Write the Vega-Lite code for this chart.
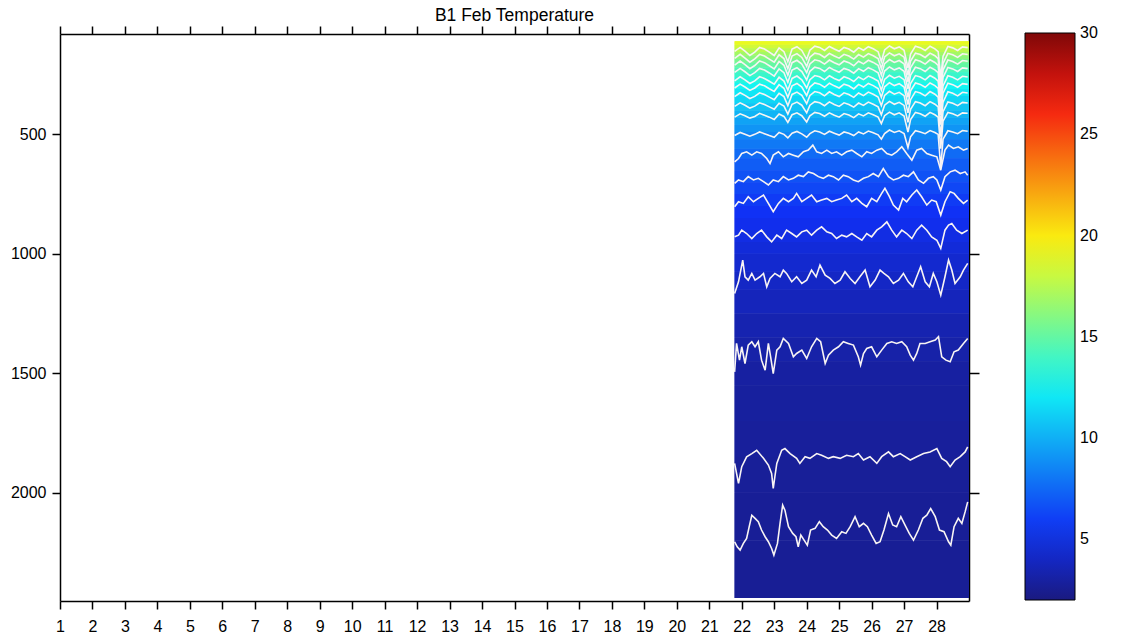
{
"$schema": "https://vega.github.io/schema/vega-lite/v6.json",
"width": 909, "height": 567,
"autosize": {"type": "none"},
"padding": {"left": 60, "top": 34, "right": 166, "bottom": 36},
"background": "white",
"title": {"text": "B1 Feb Temperature", "font": "Liberation Sans", "fontSize": 17.5, "fontWeight": "normal", "color": "black", "anchor": "middle", "offset": 1},
"config": {"view": {"stroke": null}, "axis": {"domainColor": "black", "domainWidth": 1.5, "tickColor": "black", "tickWidth": 1.5, "tickSize": 8, "labelFont": "Liberation Sans", "labelFontSize": 16, "labelColor": "black", "grid": false, "title": null, "labelFlush": false, "labelOverlap": false}},
"datasets": {
"bands": [
{"t0":21.78,"t1":29,"d0":110,"d1":125,"T":19.0},
{"t0":21.78,"t1":29,"d0":125,"d1":140,"T":18.3},
{"t0":21.78,"t1":29,"d0":140,"d1":155,"T":17.6},
{"t0":21.78,"t1":29,"d0":155,"d1":170,"T":16.9},
{"t0":21.78,"t1":29,"d0":170,"d1":185,"T":16.2},
{"t0":21.78,"t1":29,"d0":185,"d1":200,"T":15.6},
{"t0":21.78,"t1":29,"d0":200,"d1":220,"T":15.0},
{"t0":21.78,"t1":29,"d0":220,"d1":240,"T":14.4},
{"t0":21.78,"t1":29,"d0":240,"d1":260,"T":13.8},
{"t0":21.78,"t1":29,"d0":260,"d1":285,"T":13.2},
{"t0":21.78,"t1":29,"d0":285,"d1":310,"T":12.6},
{"t0":21.78,"t1":29,"d0":310,"d1":340,"T":12.0},
{"t0":21.78,"t1":29,"d0":340,"d1":370,"T":11.4},
{"t0":21.78,"t1":29,"d0":370,"d1":400,"T":10.8},
{"t0":21.78,"t1":29,"d0":400,"d1":430,"T":10.2},
{"t0":21.78,"t1":29,"d0":430,"d1":460,"T":9.6},
{"t0":21.78,"t1":29,"d0":460,"d1":490,"T":9.1},
{"t0":21.78,"t1":29,"d0":490,"d1":520,"T":8.6},
{"t0":21.78,"t1":29,"d0":520,"d1":560,"T":8.1},
{"t0":21.78,"t1":29,"d0":560,"d1":600,"T":7.6},
{"t0":21.78,"t1":29,"d0":600,"d1":650,"T":7.1},
{"t0":21.78,"t1":29,"d0":650,"d1":700,"T":6.7},
{"t0":21.78,"t1":29,"d0":700,"d1":750,"T":6.3},
{"t0":21.78,"t1":29,"d0":750,"d1":800,"T":5.9},
{"t0":21.78,"t1":29,"d0":800,"d1":850,"T":5.55},
{"t0":21.78,"t1":29,"d0":850,"d1":900,"T":5.25},
{"t0":21.78,"t1":29,"d0":900,"d1":950,"T":4.95},
{"t0":21.78,"t1":29,"d0":950,"d1":1000,"T":4.65},
{"t0":21.78,"t1":29,"d0":1000,"d1":1075,"T":4.35},
{"t0":21.78,"t1":29,"d0":1075,"d1":1150,"T":4.05},
{"t0":21.78,"t1":29,"d0":1150,"d1":1250,"T":3.75},
{"t0":21.78,"t1":29,"d0":1250,"d1":1350,"T":3.45},
{"t0":21.78,"t1":29,"d0":1350,"d1":1450,"T":3.2},
{"t0":21.78,"t1":29,"d0":1450,"d1":1550,"T":3.0},
{"t0":21.78,"t1":29,"d0":1550,"d1":1700,"T":2.9},
{"t0":21.78,"t1":29,"d0":1700,"d1":1850,"T":2.8},
{"t0":21.78,"t1":29,"d0":1850,"d1":2000,"T":2.72},
{"t0":21.78,"t1":29,"d0":2000,"d1":2200,"T":2.67},
{"t0":21.78,"t1":29,"d0":2200,"d1":2440,"T":2.62}
],
"lines": [
{"k":"I","t":21.78,"d":2205},{"k":"I","t":21.86,"d":2226},{"k":"I","t":21.95,"d":2240},{"k":"I","t":22.05,"d":2212},{"k":"I","t":22.15,"d":2191},{"k":"I","t":22.23,"d":2142},{"k":"I","t":22.31,"d":2094},{"k":"I","t":22.41,"d":2107},{"k":"I","t":22.51,"d":2121},{"k":"I","t":22.61,"d":2156},{"k":"I","t":22.72,"d":2184},{"k":"I","t":22.82,"d":2205},{"k":"I","t":22.92,"d":2233},{"k":"I","t":22.99,"d":2261},{"k":"I","t":23.10,"d":2212},{"k":"I","t":23.18,"d":2128},{"k":"I","t":23.26,"d":2052},{"k":"I","t":23.33,"d":2073},{"k":"I","t":23.44,"d":2142},{"k":"I","t":23.57,"d":2170},{"k":"I","t":23.67,"d":2184},{"k":"I","t":23.74,"d":2226},{"k":"I","t":23.82,"d":2177},{"k":"I","t":23.92,"d":2198},{"k":"I","t":24.02,"d":2219},{"k":"I","t":24.12,"d":2156},{"k":"I","t":24.26,"d":2149},{"k":"I","t":24.39,"d":2121},{"k":"I","t":24.51,"d":2142},{"k":"I","t":24.64,"d":2156},{"k":"I","t":24.77,"d":2177},{"k":"I","t":24.92,"d":2191},{"k":"I","t":25.08,"d":2163},{"k":"I","t":25.21,"d":2170},{"k":"I","t":25.34,"d":2142},{"k":"I","t":25.49,"d":2100},{"k":"I","t":25.62,"d":2142},{"k":"I","t":25.75,"d":2128},{"k":"I","t":25.87,"d":2142},{"k":"I","t":26.00,"d":2177},{"k":"I","t":26.14,"d":2212},{"k":"I","t":26.26,"d":2205},{"k":"I","t":26.38,"d":2156},{"k":"I","t":26.52,"d":2087},{"k":"I","t":26.65,"d":2135},{"k":"I","t":26.77,"d":2142},{"k":"I","t":26.90,"d":2100},{"k":"I","t":27.03,"d":2135},{"k":"I","t":27.16,"d":2170},{"k":"I","t":27.29,"d":2198},{"k":"I","t":27.44,"d":2156},{"k":"I","t":27.58,"d":2107},{"k":"I","t":27.70,"d":2094},{"k":"I","t":27.82,"d":2066},{"k":"I","t":27.96,"d":2100},{"k":"I","t":28.09,"d":2156},{"k":"I","t":28.23,"d":2163},{"k":"I","t":28.37,"d":2205},{"k":"I","t":28.44,"d":2219},{"k":"I","t":28.54,"d":2142},{"k":"I","t":28.67,"d":2107},{"k":"I","t":28.78,"d":2128},{"k":"I","t":28.88,"d":2080},{"k":"I","t":28.96,"d":2038},
{"k":"H","t":21.78,"d":1877},{"k":"H","t":21.90,"d":1961},{"k":"H","t":22.00,"d":1891},{"k":"H","t":22.15,"d":1850},{"k":"H","t":22.31,"d":1836},{"k":"H","t":22.46,"d":1822},{"k":"H","t":22.67,"d":1856},{"k":"H","t":22.82,"d":1884},{"k":"H","t":22.92,"d":1919},{"k":"H","t":22.97,"d":1982},{"k":"H","t":23.02,"d":1933},{"k":"H","t":23.08,"d":1877},{"k":"H","t":23.23,"d":1822},{"k":"H","t":23.33,"d":1815},{"k":"H","t":23.49,"d":1836},{"k":"H","t":23.69,"d":1856},{"k":"H","t":23.79,"d":1877},{"k":"H","t":23.95,"d":1849},{"k":"H","t":24.10,"d":1856},{"k":"H","t":24.31,"d":1836},{"k":"H","t":24.46,"d":1843},{"k":"H","t":24.67,"d":1856},{"k":"H","t":24.82,"d":1849},{"k":"H","t":25.03,"d":1856},{"k":"H","t":25.23,"d":1843},{"k":"H","t":25.44,"d":1849},{"k":"H","t":25.59,"d":1836},{"k":"H","t":25.75,"d":1863},{"k":"H","t":25.95,"d":1849},{"k":"H","t":26.16,"d":1877},{"k":"H","t":26.31,"d":1849},{"k":"H","t":26.52,"d":1829},{"k":"H","t":26.67,"d":1849},{"k":"H","t":26.88,"d":1836},{"k":"H","t":27.03,"d":1849},{"k":"H","t":27.19,"d":1863},{"k":"H","t":27.39,"d":1849},{"k":"H","t":27.60,"d":1836},{"k":"H","t":27.80,"d":1829},{"k":"H","t":28.01,"d":1815},{"k":"H","t":28.16,"d":1856},{"k":"H","t":28.31,"d":1870},{"k":"H","t":28.42,"d":1891},{"k":"H","t":28.57,"d":1863},{"k":"H","t":28.73,"d":1849},{"k":"H","t":28.88,"d":1829},{"k":"H","t":28.96,"d":1808},
{"k":"G","t":21.78,"d":1494},{"k":"G","t":21.84,"d":1375},{"k":"G","t":21.93,"d":1445},{"k":"G","t":22.00,"d":1389},{"k":"G","t":22.10,"d":1459},{"k":"G","t":22.20,"d":1382},{"k":"G","t":22.31,"d":1368},{"k":"G","t":22.41,"d":1389},{"k":"G","t":22.51,"d":1368},{"k":"G","t":22.61,"d":1445},{"k":"G","t":22.72,"d":1487},{"k":"G","t":22.82,"d":1375},{"k":"G","t":22.89,"d":1431},{"k":"G","t":22.97,"d":1501},{"k":"G","t":23.08,"d":1403},{"k":"G","t":23.18,"d":1389},{"k":"G","t":23.28,"d":1354},{"k":"G","t":23.44,"d":1375},{"k":"G","t":23.59,"d":1431},{"k":"G","t":23.69,"d":1417},{"k":"G","t":23.85,"d":1403},{"k":"G","t":24.00,"d":1438},{"k":"G","t":24.15,"d":1389},{"k":"G","t":24.31,"d":1354},{"k":"G","t":24.43,"d":1368},{"k":"G","t":24.57,"d":1459},{"k":"G","t":24.67,"d":1424},{"k":"G","t":24.82,"d":1403},{"k":"G","t":24.98,"d":1389},{"k":"G","t":25.13,"d":1368},{"k":"G","t":25.28,"d":1375},{"k":"G","t":25.44,"d":1382},{"k":"G","t":25.59,"d":1431},{"k":"G","t":25.66,"d":1466},{"k":"G","t":25.75,"d":1417},{"k":"G","t":25.85,"d":1396},{"k":"G","t":26.00,"d":1389},{"k":"G","t":26.16,"d":1431},{"k":"G","t":26.31,"d":1403},{"k":"G","t":26.47,"d":1375},{"k":"G","t":26.62,"d":1368},{"k":"G","t":26.77,"d":1375},{"k":"G","t":26.93,"d":1368},{"k":"G","t":27.08,"d":1389},{"k":"G","t":27.19,"d":1424},{"k":"G","t":27.29,"d":1445},{"k":"G","t":27.39,"d":1417},{"k":"G","t":27.49,"d":1375},{"k":"G","t":27.65,"d":1375},{"k":"G","t":27.80,"d":1368},{"k":"G","t":27.96,"d":1361},{"k":"G","t":28.06,"d":1347},{"k":"G","t":28.16,"d":1431},{"k":"G","t":28.29,"d":1445},{"k":"G","t":28.42,"d":1452},{"k":"G","t":28.54,"d":1410},{"k":"G","t":28.67,"d":1403},{"k":"G","t":28.83,"d":1375},{"k":"G","t":28.96,"d":1354},
{"k":"F","t":21.78,"d":1166},{"k":"F","t":21.90,"d":1117},{"k":"F","t":22.03,"d":1026},{"k":"F","t":22.10,"d":1096},{"k":"F","t":22.20,"d":1110},{"k":"F","t":22.31,"d":1082},{"k":"F","t":22.41,"d":1110},{"k":"F","t":22.56,"d":1096},{"k":"F","t":22.67,"d":1082},{"k":"F","t":22.77,"d":1138},{"k":"F","t":22.87,"d":1103},{"k":"F","t":23.02,"d":1082},{"k":"F","t":23.18,"d":1096},{"k":"F","t":23.28,"d":1068},{"k":"F","t":23.38,"d":1082},{"k":"F","t":23.54,"d":1117},{"k":"F","t":23.69,"d":1096},{"k":"F","t":23.85,"d":1124},{"k":"F","t":24.00,"d":1110},{"k":"F","t":24.15,"d":1068},{"k":"F","t":24.29,"d":1096},{"k":"F","t":24.41,"d":1047},{"k":"F","t":24.57,"d":1089},{"k":"F","t":24.72,"d":1103},{"k":"F","t":24.87,"d":1124},{"k":"F","t":25.03,"d":1110},{"k":"F","t":25.18,"d":1075},{"k":"F","t":25.34,"d":1103},{"k":"F","t":25.49,"d":1124},{"k":"F","t":25.64,"d":1096},{"k":"F","t":25.80,"d":1068},{"k":"F","t":25.95,"d":1138},{"k":"F","t":26.11,"d":1110},{"k":"F","t":26.26,"d":1068},{"k":"F","t":26.38,"d":1082},{"k":"F","t":26.52,"d":1096},{"k":"F","t":26.67,"d":1124},{"k":"F","t":26.83,"d":1110},{"k":"F","t":26.98,"d":1082},{"k":"F","t":27.13,"d":1117},{"k":"F","t":27.27,"d":1138},{"k":"F","t":27.39,"d":1096},{"k":"F","t":27.51,"d":1054},{"k":"F","t":27.65,"d":1117},{"k":"F","t":27.78,"d":1138},{"k":"F","t":27.90,"d":1082},{"k":"F","t":28.01,"d":1117},{"k":"F","t":28.13,"d":1173},{"k":"F","t":28.26,"d":1096},{"k":"F","t":28.37,"d":1026},{"k":"F","t":28.47,"d":1068},{"k":"F","t":28.57,"d":1124},{"k":"F","t":28.73,"d":1096},{"k":"F","t":28.83,"d":1068},{"k":"F","t":28.96,"d":1040},
{"k":"E","t":21.78,"d":929},{"k":"E","t":21.90,"d":922},{"k":"E","t":22.00,"d":901},{"k":"E","t":22.15,"d":915},{"k":"E","t":22.31,"d":936},{"k":"E","t":22.46,"d":915},{"k":"E","t":22.61,"d":901},{"k":"E","t":22.77,"d":929},{"k":"E","t":22.92,"d":950},{"k":"E","t":23.08,"d":922},{"k":"E","t":23.23,"d":936},{"k":"E","t":23.38,"d":901},{"k":"E","t":23.54,"d":915},{"k":"E","t":23.69,"d":929},{"k":"E","t":23.85,"d":908},{"k":"E","t":24.00,"d":901},{"k":"E","t":24.15,"d":922},{"k":"E","t":24.31,"d":901},{"k":"E","t":24.46,"d":887},{"k":"E","t":24.62,"d":908},{"k":"E","t":24.77,"d":915},{"k":"E","t":24.92,"d":936},{"k":"E","t":25.08,"d":922},{"k":"E","t":25.23,"d":929},{"k":"E","t":25.39,"d":915},{"k":"E","t":25.54,"d":929},{"k":"E","t":25.70,"d":943},{"k":"E","t":25.85,"d":915},{"k":"E","t":26.00,"d":929},{"k":"E","t":26.16,"d":901},{"k":"E","t":26.31,"d":887},{"k":"E","t":26.47,"d":866},{"k":"E","t":26.62,"d":901},{"k":"E","t":26.77,"d":929},{"k":"E","t":26.93,"d":901},{"k":"E","t":27.08,"d":915},{"k":"E","t":27.24,"d":936},{"k":"E","t":27.39,"d":901},{"k":"E","t":27.54,"d":880},{"k":"E","t":27.70,"d":901},{"k":"E","t":27.85,"d":929},{"k":"E","t":28.01,"d":943},{"k":"E","t":28.13,"d":977},{"k":"E","t":28.26,"d":901},{"k":"E","t":28.37,"d":880},{"k":"E","t":28.47,"d":873},{"k":"E","t":28.62,"d":901},{"k":"E","t":28.78,"d":915},{"k":"E","t":28.96,"d":901},
{"k":"D","t":21.78,"d":803},{"k":"D","t":21.90,"d":782},{"k":"D","t":22.05,"d":789},{"k":"D","t":22.20,"d":761},{"k":"D","t":22.36,"d":782},{"k":"D","t":22.51,"d":768},{"k":"D","t":22.67,"d":754},{"k":"D","t":22.82,"d":789},{"k":"D","t":22.97,"d":824},{"k":"D","t":23.13,"d":789},{"k":"D","t":23.28,"d":768},{"k":"D","t":23.44,"d":782},{"k":"D","t":23.59,"d":768},{"k":"D","t":23.69,"d":747},{"k":"D","t":23.85,"d":782},{"k":"D","t":24.00,"d":768},{"k":"D","t":24.15,"d":754},{"k":"D","t":24.31,"d":782},{"k":"D","t":24.46,"d":775},{"k":"D","t":24.62,"d":768},{"k":"D","t":24.77,"d":782},{"k":"D","t":24.92,"d":775},{"k":"D","t":25.08,"d":768},{"k":"D","t":25.23,"d":754},{"k":"D","t":25.39,"d":782},{"k":"D","t":25.54,"d":768},{"k":"D","t":25.70,"d":789},{"k":"D","t":25.85,"d":803},{"k":"D","t":26.00,"d":768},{"k":"D","t":26.16,"d":782},{"k":"D","t":26.31,"d":747},{"k":"D","t":26.41,"d":726},{"k":"D","t":26.55,"d":761},{"k":"D","t":26.67,"d":796},{"k":"D","t":26.83,"d":817},{"k":"D","t":26.96,"d":768},{"k":"D","t":27.08,"d":782},{"k":"D","t":27.24,"d":754},{"k":"D","t":27.39,"d":733},{"k":"D","t":27.54,"d":761},{"k":"D","t":27.70,"d":796},{"k":"D","t":27.85,"d":775},{"k":"D","t":27.99,"d":782},{"k":"D","t":28.13,"d":838},{"k":"D","t":28.26,"d":782},{"k":"D","t":28.42,"d":740},{"k":"D","t":28.54,"d":747},{"k":"D","t":28.67,"d":768},{"k":"D","t":28.83,"d":789},{"k":"D","t":28.96,"d":775},
{"k":"C","t":21.78,"d":705},{"k":"C","t":21.90,"d":691},{"k":"C","t":22.05,"d":698},{"k":"C","t":22.20,"d":677},{"k":"C","t":22.36,"d":691},{"k":"C","t":22.51,"d":684},{"k":"C","t":22.67,"d":698},{"k":"C","t":22.82,"d":712},{"k":"C","t":22.97,"d":691},{"k":"C","t":23.13,"d":698},{"k":"C","t":23.28,"d":677},{"k":"C","t":23.44,"d":691},{"k":"C","t":23.59,"d":684},{"k":"C","t":23.74,"d":671},{"k":"C","t":23.90,"d":677},{"k":"C","t":24.05,"d":657},{"k":"C","t":24.21,"d":664},{"k":"C","t":24.36,"d":677},{"k":"C","t":24.51,"d":684},{"k":"C","t":24.67,"d":671},{"k":"C","t":24.82,"d":677},{"k":"C","t":24.98,"d":691},{"k":"C","t":25.13,"d":671},{"k":"C","t":25.28,"d":677},{"k":"C","t":25.44,"d":691},{"k":"C","t":25.59,"d":698},{"k":"C","t":25.75,"d":684},{"k":"C","t":25.90,"d":677},{"k":"C","t":26.05,"d":664},{"k":"C","t":26.21,"d":677},{"k":"C","t":26.36,"d":643},{"k":"C","t":26.52,"d":677},{"k":"C","t":26.67,"d":691},{"k":"C","t":26.83,"d":684},{"k":"C","t":26.98,"d":671},{"k":"C","t":27.13,"d":677},{"k":"C","t":27.29,"d":657},{"k":"C","t":27.44,"d":691},{"k":"C","t":27.60,"d":705},{"k":"C","t":27.75,"d":684},{"k":"C","t":27.90,"d":677},{"k":"C","t":28.01,"d":691},{"k":"C","t":28.13,"d":733},{"k":"C","t":28.26,"d":677},{"k":"C","t":28.42,"d":657},{"k":"C","t":28.57,"d":650},{"k":"C","t":28.73,"d":664},{"k":"C","t":28.88,"d":657},{"k":"C","t":28.96,"d":671},
{"k":"B","t":21.78,"d":615},{"k":"B","t":21.90,"d":601},{"k":"B","t":22.00,"d":580},{"k":"B","t":22.15,"d":573},{"k":"B","t":22.31,"d":587},{"k":"B","t":22.46,"d":573},{"k":"B","t":22.61,"d":580},{"k":"B","t":22.77,"d":601},{"k":"B","t":22.87,"d":622},{"k":"B","t":22.97,"d":587},{"k":"B","t":23.13,"d":573},{"k":"B","t":23.28,"d":594},{"k":"B","t":23.44,"d":580},{"k":"B","t":23.59,"d":587},{"k":"B","t":23.74,"d":594},{"k":"B","t":23.90,"d":573},{"k":"B","t":24.05,"d":566},{"k":"B","t":24.19,"d":545},{"k":"B","t":24.31,"d":573},{"k":"B","t":24.46,"d":580},{"k":"B","t":24.62,"d":566},{"k":"B","t":24.77,"d":580},{"k":"B","t":24.92,"d":573},{"k":"B","t":25.08,"d":587},{"k":"B","t":25.23,"d":573},{"k":"B","t":25.39,"d":566},{"k":"B","t":25.54,"d":580},{"k":"B","t":25.70,"d":594},{"k":"B","t":25.85,"d":573},{"k":"B","t":26.00,"d":580},{"k":"B","t":26.16,"d":566},{"k":"B","t":26.31,"d":559},{"k":"B","t":26.47,"d":580},{"k":"B","t":26.62,"d":587},{"k":"B","t":26.77,"d":573},{"k":"B","t":26.93,"d":552},{"k":"B","t":27.08,"d":580},{"k":"B","t":27.24,"d":608},{"k":"B","t":27.39,"d":566},{"k":"B","t":27.54,"d":559},{"k":"B","t":27.70,"d":580},{"k":"B","t":27.85,"d":587},{"k":"B","t":28.01,"d":594},{"k":"B","t":28.13,"d":650},{"k":"B","t":28.26,"d":566},{"k":"B","t":28.37,"d":545},{"k":"B","t":28.52,"d":559},{"k":"B","t":28.67,"d":552},{"k":"B","t":28.83,"d":566},{"k":"B","t":28.96,"d":559}
],
"upper": [
{"t":21.78,"A":505,"A2":428,"A3":383,"A4":342,"A5":306,"A6":276,"A7":241,"A8":210,"A9":182,"A10":153},
{"t":21.95,"A":492,"A2":414,"A3":368,"A4":326,"A5":290,"A6":259,"A7":224,"A8":193,"A9":165,"A10":136},
{"t":22.1,"A":500,"A2":422,"A3":378,"A4":337,"A5":302,"A6":272,"A7":238,"A8":208,"A9":181,"A10":152},
{"t":22.25,"A":508,"A2":432,"A3":390,"A4":350,"A5":316,"A6":287,"A7":254,"A8":225,"A9":198,"A10":170},
{"t":22.4,"A":500,"A2":425,"A3":382,"A4":341,"A5":306,"A6":276,"A7":242,"A8":212,"A9":184,"A10":156},
{"t":22.55,"A":490,"A2":412,"A3":368,"A4":326,"A5":290,"A6":259,"A7":224,"A8":193,"A9":165,"A10":136},
{"t":22.7,"A":497,"A2":420,"A3":375,"A4":333,"A5":297,"A6":266,"A7":231,"A8":200,"A9":172,"A10":143},
{"t":22.85,"A":505,"A2":428,"A3":385,"A4":344,"A5":309,"A6":278,"A7":243,"A8":213,"A9":185,"A10":156},
{"t":23.0,"A":512,"A2":438,"A3":395,"A4":355,"A5":320,"A6":290,"A7":256,"A8":226,"A9":198,"A10":170},
{"t":23.15,"A":492,"A2":415,"A3":370,"A4":328,"A5":292,"A6":261,"A7":226,"A8":195,"A9":167,"A10":138},
{"t":23.3,"A":500,"A2":425,"A3":382,"A4":342,"A5":307,"A6":277,"A7":242,"A8":211,"A9":183,"A10":154},
{"t":23.42,"A":515,"A2":450,"A3":415,"A4":380,"A5":345,"A6":315,"A7":282,"A8":252,"A9":225,"A10":196},
{"t":23.55,"A":495,"A2":418,"A3":374,"A4":333,"A5":297,"A6":266,"A7":231,"A8":200,"A9":172,"A10":143},
{"t":23.7,"A":488,"A2":410,"A3":365,"A4":323,"A5":287,"A6":256,"A7":221,"A8":190,"A9":162,"A10":133},
{"t":23.85,"A":498,"A2":422,"A3":378,"A4":337,"A5":302,"A6":272,"A7":237,"A8":206,"A9":178,"A10":149},
{"t":24.0,"A":512,"A2":448,"A3":410,"A4":372,"A5":338,"A6":306,"A7":272,"A8":242,"A9":215,"A10":186},
{"t":24.1,"A":497,"A2":422,"A3":378,"A4":337,"A5":302,"A6":271,"A7":236,"A8":205,"A9":177,"A10":148},
{"t":24.25,"A":485,"A2":408,"A3":363,"A4":321,"A5":285,"A6":254,"A7":219,"A8":188,"A9":160,"A10":131},
{"t":24.4,"A":490,"A2":413,"A3":368,"A4":326,"A5":290,"A6":259,"A7":224,"A8":193,"A9":165,"A10":136},
{"t":24.55,"A":500,"A2":424,"A3":380,"A4":339,"A5":303,"A6":272,"A7":237,"A8":206,"A9":178,"A10":149},
{"t":24.7,"A":487,"A2":410,"A3":364,"A4":322,"A5":286,"A6":255,"A7":220,"A8":189,"A9":161,"A10":132},
{"t":24.85,"A":495,"A2":420,"A3":375,"A4":333,"A5":297,"A6":266,"A7":231,"A8":200,"A9":172,"A10":143},
{"t":25.0,"A":503,"A2":428,"A3":383,"A4":342,"A5":306,"A6":275,"A7":240,"A8":209,"A9":181,"A10":152},
{"t":25.15,"A":490,"A2":413,"A3":368,"A4":326,"A5":290,"A6":259,"A7":224,"A8":193,"A9":165,"A10":136},
{"t":25.3,"A":495,"A2":419,"A3":375,"A4":333,"A5":297,"A6":266,"A7":231,"A8":200,"A9":172,"A10":143},
{"t":25.45,"A":505,"A2":430,"A3":386,"A4":345,"A5":310,"A6":279,"A7":244,"A8":213,"A9":185,"A10":156},
{"t":25.6,"A":490,"A2":414,"A3":369,"A4":327,"A5":291,"A6":260,"A7":225,"A8":194,"A9":166,"A10":137},
{"t":25.75,"A":498,"A2":423,"A3":379,"A4":338,"A5":302,"A6":271,"A7":236,"A8":205,"A9":177,"A10":148},
{"t":25.9,"A":486,"A2":410,"A3":365,"A4":323,"A5":287,"A6":256,"A7":221,"A8":190,"A9":162,"A10":133},
{"t":26.05,"A":493,"A2":418,"A3":374,"A4":332,"A5":296,"A6":265,"A7":230,"A8":199,"A9":171,"A10":142},
{"t":26.2,"A":502,"A2":428,"A3":385,"A4":344,"A5":308,"A6":277,"A7":242,"A8":211,"A9":183,"A10":154},
{"t":26.3,"A":520,"A2":455,"A3":418,"A4":380,"A5":345,"A6":315,"A7":282,"A8":252,"A9":224,"A10":195},
{"t":26.4,"A":497,"A2":422,"A3":378,"A4":337,"A5":301,"A6":270,"A7":235,"A8":204,"A9":176,"A10":147},
{"t":26.55,"A":482,"A2":407,"A3":362,"A4":320,"A5":284,"A6":253,"A7":218,"A8":187,"A9":159,"A10":130},
{"t":26.7,"A":492,"A2":418,"A3":374,"A4":332,"A5":296,"A6":265,"A7":230,"A8":199,"A9":171,"A10":142},
{"t":26.85,"A":485,"A2":410,"A3":366,"A4":324,"A5":288,"A6":257,"A7":222,"A8":191,"A9":163,"A10":134},
{"t":27.0,"A":497,"A2":423,"A3":379,"A4":338,"A5":302,"A6":271,"A7":236,"A8":205,"A9":177,"A10":148},
{"t":27.12,"A":555,"A2":490,"A3":450,"A4":410,"A5":375,"A6":345,"A7":310,"A8":280,"A9":252,"A10":222},
{"t":27.2,"A":510,"A2":438,"A3":395,"A4":355,"A5":318,"A6":287,"A7":252,"A8":221,"A9":193,"A10":164},
{"t":27.35,"A":485,"A2":408,"A3":363,"A4":321,"A5":285,"A6":254,"A7":219,"A8":188,"A9":160,"A10":131},
{"t":27.5,"A":490,"A2":414,"A3":369,"A4":327,"A5":291,"A6":260,"A7":225,"A8":194,"A9":166,"A10":137},
{"t":27.65,"A":497,"A2":424,"A3":380,"A4":339,"A5":303,"A6":272,"A7":237,"A8":206,"A9":178,"A10":149},
{"t":27.8,"A":484,"A2":408,"A3":363,"A4":321,"A5":285,"A6":254,"A7":219,"A8":188,"A9":160,"A10":131},
{"t":27.95,"A":492,"A2":418,"A3":374,"A4":332,"A5":296,"A6":265,"A7":230,"A8":199,"A9":171,"A10":142},
{"t":28.05,"A":500,"A2":428,"A3":385,"A4":344,"A5":308,"A6":277,"A7":242,"A8":211,"A9":183,"A10":154},
{"t":28.13,"A":640,"A2":560,"A3":510,"A4":460,"A5":420,"A6":385,"A7":350,"A8":320,"A9":292,"A10":262},
{"t":28.2,"A":520,"A2":445,"A3":405,"A4":365,"A5":328,"A6":297,"A7":262,"A8":231,"A9":203,"A10":174},
{"t":28.35,"A":485,"A2":408,"A3":364,"A4":322,"A5":286,"A6":255,"A7":220,"A8":189,"A9":161,"A10":132},
{"t":28.5,"A":490,"A2":414,"A3":370,"A4":328,"A5":292,"A6":261,"A7":226,"A8":195,"A9":167,"A10":138},
{"t":28.65,"A":497,"A2":423,"A3":380,"A4":339,"A5":303,"A6":272,"A7":237,"A8":206,"A9":178,"A10":149},
{"t":28.8,"A":484,"A2":410,"A3":366,"A4":324,"A5":288,"A6":257,"A7":222,"A8":191,"A9":163,"A10":134},
{"t":28.96,"A":487,"A2":412,"A3":369,"A4":327,"A5":291,"A6":260,"A7":225,"A8":194,"A9":166,"A10":137}
]
},
"layer": [
{
"data": {"name": "bands"},
"mark": {"type": "rect"},
"encoding": {
"x": {"field": "t0", "type": "quantitative", "scale": {"domain": [1, 29], "nice": false, "zero": false}, "axis": {"orient": "bottom", "values": [1,2,3,4,5,6,7,8,9,10,11,12,13,14,15,16,17,18,19,20,21,22,23,24,25,26,27,28], "labelPadding": 9}},
"x2": {"field": "t1"},
"y": {"field": "d0", "type": "quantitative", "scale": {"domain": [80, 2453], "nice": false, "zero": false, "reverse": true}, "axis": {"orient": "left", "values": [500, 1000, 1500, 2000], "labelPadding": 6, "format": "d"}},
"y2": {"field": "d1"},
"color": {"field": "T", "type": "quantitative",
"scale": {"domain": [2, 5.5, 12.5, 19.5, 26.5, 30.01], "range": ["#1a1a80", "#1030f5", "#10f5f5", "#fafa10", "#f51a10", "#800808"], "interpolate": "rgb"},
"legend": {"title": null, "orient": "none", "legendX": 965, "legendY": -1, "direction": "vertical", "gradientLength": 567, "gradientThickness": 50, "values": [5, 10, 15, 20, 25, 30], "labelFontSize": 16, "labelFont": "Liberation Sans", "labelColor": "black", "labelOffset": 5, "gradientStrokeColor": "black", "gradientStrokeWidth": 1, "padding": 0}}
}
},
{
"data": {"name": "bands"},
"mark": {"type": "rect"},
"encoding": {
"x": {"field": "t0", "type": "quantitative", "axis": null},
"x2": {"field": "t1"},
"y": {"field": "d0", "type": "quantitative", "axis": null},
"y2": {"field": "d1"},
"color": {"field": "T", "type": "quantitative"}
}
},
{
"data": {"name": "lines"},
"mark": {"type": "line", "color": "#f8f4f4", "strokeWidth": 1.6},
"encoding": {
"x": {"field": "t", "type": "quantitative", "axis": {"orient": "top", "values": [1,2,3,4,5,6,7,8,9,10,11,12,13,14,15,16,17,18,19,20,21,22,23,24,25,26,27,28], "labels": false}},
"y": {"field": "d", "type": "quantitative", "axis": {"orient": "right", "values": [500, 1000, 1500, 2000], "labels": false, "tickSize": 10}},
"detail": {"field": "k"}
}
},
{
"data": {"name": "upper"},
"transform": [{"fold": ["A","A2","A3","A4","A5","A6","A7","A8","A9","A10"], "as": ["k", "d"]}],
"mark": {"type": "line", "color": "#f8f4f4", "strokeWidth": 1.6},
"encoding": {
"x": {"field": "t", "type": "quantitative", "axis": null},
"y": {"field": "d", "type": "quantitative", "axis": null},
"detail": {"field": "k"}
}
}
],
"resolve": {"axis": {"x": "independent", "y": "independent"}}
}
